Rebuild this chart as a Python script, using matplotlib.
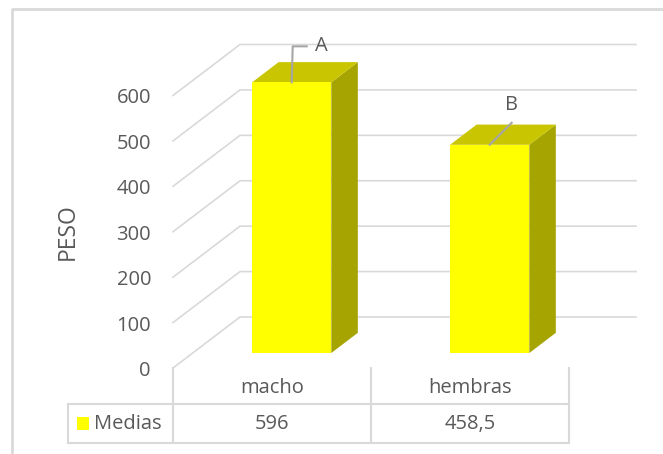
import matplotlib
matplotlib.use("Agg")
import matplotlib.pyplot as plt
import matplotlib.transforms as mtransforms
from matplotlib.patches import Polygon, Rectangle
from matplotlib.lines import Line2D

# data
categories = ['macho', 'hembras']
medias = [596, 458.5]
medias_text = ['596', '458,5']
letters = ['A', 'B']
yticks = [0, 100, 200, 300, 400, 500, 600]
series_name = 'Medias'
y_label = 'PESO'

W, H = 663, 454
plt.rcParams['font.family'] = ['Open Sans', 'DejaVu Sans']
txt_c = '#595959'
grid_c = '#D9D9D9'
fs = 14.5

fig = plt.figure(figsize=(W / 100, H / 100), dpi=100)
fig.patch.set_facecolor('white')
ident = mtransforms.IdentityTransform()


def pix(px, py):
    # image pixels (origin top-left) -> display pixels
    return px, H - py


def fig_line(xs, ys, **kw):
    pts = [pix(x, y) for x, y in zip(xs, ys)]
    fig.add_artist(Line2D([p[0] for p in pts], [p[1] for p in pts],
                          transform=ident, **kw))


# front plane of the 3D box: value 0 at y=368, 600 at y=95.5, x from 173 to 569
ax = fig.add_axes([173 / W, (H - 368) / H, (569 - 173) / W, (368 - 95.5) / H])
ax.set_xlim(-0.5, 1.5)
ax.set_ylim(0, 600)
ax.axis('off')

px_per_val = (368 - 95.5) / 600
DX = 67 / 198          # full depth, category units
DY = 51 / px_per_val   # full depth, value units


def proj(x, v, d):
    return x + d * DX, v + d * DY


# back wall + side wall gridlines
for v in yticks:
    p = [proj(-0.5, v, 0), proj(-0.5, v, 1), proj(1.5, v, 1)]
    ax.plot([q[0] for q in p], [q[1] for q in p], color=grid_c, lw=1.2,
            clip_on=False, zorder=1, solid_joinstyle='miter')
    ax.text(-0.5, v, str(v), ha='right', va='center', fontsize=fs, color=txt_c,
            transform=mtransforms.offset_copy(ax.transData, fig=fig, x=-22, y=-3, units='dots'))

# bars
bw = 0.40
d0, d1 = 0.294, 0.69
for i, v in enumerate(medias):
    x0, x1 = i - bw / 2, i + bw / 2
    front = [proj(x0, 0, d0), proj(x1, 0, d0), proj(x1, v, d0), proj(x0, v, d0)]
    side = [proj(x1, 0, d0), proj(x1, 0, d1), proj(x1, v, d1), proj(x1, v, d0)]
    top = [proj(x0, v, d0), proj(x1, v, d0), proj(x1, v, d1), proj(x0, v, d1)]
    ax.add_patch(Polygon(side, closed=True, fc='#A6A400', ec='none', clip_on=False, zorder=3))
    ax.add_patch(Polygon(top, closed=True, fc='#C9C500', ec='none', clip_on=False, zorder=3))
    ax.add_patch(Polygon(front, closed=True, fc='#FFFF00', ec='none', clip_on=False, zorder=4))

fig.canvas.draw()

# significance letters with leader lines
lead_c = '#A6A6A6'
for i, (v, lab) in enumerate(zip(medias, letters)):
    ax_pt = ax.transData.transform(proj(i, v, d0))
    x, y = ax_pt[0], H - ax_pt[1]
    if i == 0:
        fig_line([x, x + 1, x + 15], [y, y - 36, y - 36], color=lead_c, lw=1.5)
        fig.text((x + 30) / W, 1 - (y - 36) / H, lab, ha='center', va='center',
                 fontsize=fs, color=txt_c)
    else:
        fig_line([x, x + 22], [y, y - 22], color=lead_c, lw=1.5)
        fig.text((x + 22) / W, 1 - (y - 40) / H, lab, ha='center', va='center',
                 fontsize=fs, color=txt_c)

# y axis title
fig.text(68 / W, 1 - 232 / H, y_label, rotation=90, ha='center', va='center',
         fontsize=16.5, color=txt_c)

# data table
bounds = [ax.transData.transform((b, 0))[0] for b in (-0.5, 0.5, 1.5)]
for bx in bounds:
    fig_line([bx, bx], [368, 443], color=grid_c, lw=1.5)
fig_line([68, bounds[-1]], [404, 404], color=grid_c, lw=1.5)
fig_line([68, bounds[-1]], [443, 443], color=grid_c, lw=1.5)
fig_line([68, 68], [404, 443], color=grid_c, lw=1.5)
for i, (cat, vt) in enumerate(zip(categories, medias_text)):
    cx = ax.transData.transform((i, 0))[0]
    fig.text(cx / W, 1 - 388 / H, cat, ha='center', va='center', fontsize=fs, color=txt_c)
    fig.text(cx / W, 1 - 424 / H, vt, ha='center', va='center', fontsize=fs, color=txt_c)
fig.add_artist(Rectangle(pix(77, 430), 12, 13, transform=ident, fc='#FFFF00', ec='none'))
fig.text(94 / W, 1 - 424 / H, series_name, ha='left', va='center', fontsize=fs, color=txt_c)

# chart area frame
fig_line([12, 12, W], [H, 9, 9], color=grid_c, lw=2)

fig.savefig('out.png', dpi=100)
